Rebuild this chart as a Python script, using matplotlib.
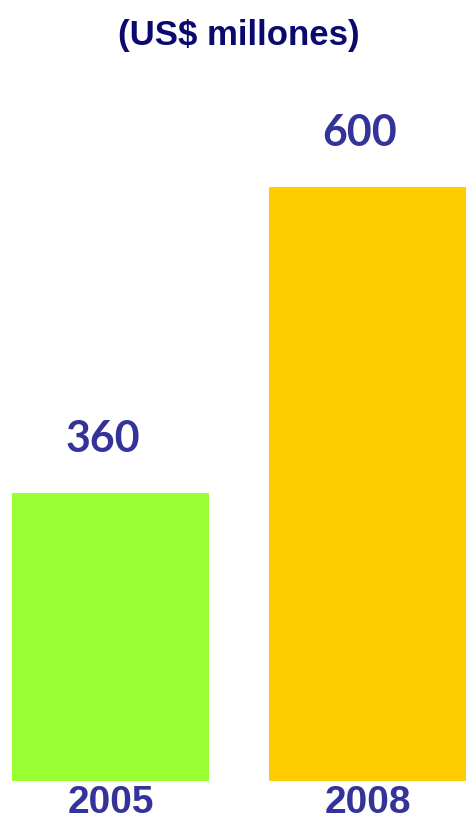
import matplotlib.pyplot as plt
import numpy as np

years = ["2005", "2008"]
values = [360, 600]
colors = ["#99FF33", "#FFCC00"]

fig = plt.figure(figsize=(4.66, 8.24), dpi=100)
ax = fig.add_axes([0, 1 - 780.5 / 824, 1, 780.5 / 824])

x = np.arange(len(years))
ax.bar(x, values, width=0.767, color=colors)
ax.set_xlim(-0.430, 1.383)
ax.set_ylim(135, 746)

for xi, v in zip(x, values):
    ax.annotate(str(v), (xi, v), xytext=(-8, 54), textcoords="offset pixels",
                ha="center", va="center", fontsize=31, fontweight="bold",
                family="Lato", color="#333399")

ax.set_xticks(x)
ax.set_xticklabels(years, fontsize=28, fontweight="bold",
                   family="Liberation Sans", color="#333399")
ax.tick_params(axis="x", length=0, pad=3)
ax.set_yticks([])
for s in ax.spines.values():
    s.set_visible(False)

fig.text(0.513, 1 - 36 / 824, "(US$ millones)", ha="center", va="center",
         fontsize=25, fontweight="bold", family="Liberation Sans",
         color="#0A0A6E")

fig.savefig("out.png", dpi=100)
